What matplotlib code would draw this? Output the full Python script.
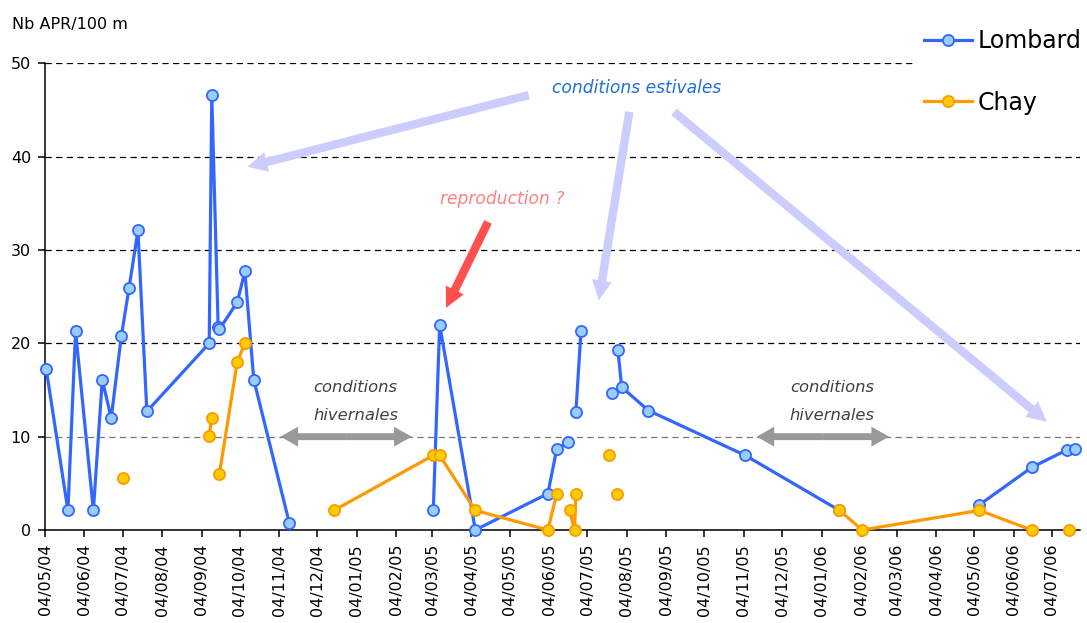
import matplotlib
matplotlib.use('Agg')
import matplotlib.pyplot as plt
import matplotlib.dates as mdates
import numpy as np
import pandas as pd

# données (NaN = pas de relevé, la ligne est coupée)
nan = np.nan

lombard_dates = ['2004-05-05', '2004-05-22', '2004-05-28', '2004-06-11', '2004-06-18',
                 '2004-06-25', '2004-07-03', '2004-07-09', '2004-07-16', '2004-07-23',
                 '2004-09-10', '2004-09-12', '2004-09-17', '2004-09-18', '2004-10-02',
                 '2004-10-08', '2004-10-15', '2004-11-12', '2005-01-01', '2005-03-05',
                 '2005-03-10', '2005-04-07', '2005-06-03', '2005-06-10', '2005-06-19',
                 '2005-06-22', '2005-06-25', '2005-06-29', '2005-07-10', '2005-07-23',
                 '2005-07-25', '2005-07-28', '2005-07-31', '2005-08-21', '2005-11-05',
                 '2006-01-18', '2006-03-01', '2006-05-08', '2006-06-18', '2006-07-16',
                 '2006-07-22']
lombard_values = [17.2, 2.1, 21.3, 2.1, 16.1,
                  12.0, 20.8, 25.9, 32.1, 12.7,
                  20.0, 46.6, 21.8, 21.5, 24.4,
                  27.7, 16.1, 0.7, nan, 2.1,
                  22.0, 0.0, 3.9, 8.7, 9.4,
                  nan, 12.6, 21.3, nan, 14.7,
                  nan, 19.3, 15.3, 12.8, 8.0,
                  2.1, nan, 2.7, 6.7, 8.6,
                  8.7]

chay_dates = ['2004-07-04', '2004-08-01', '2004-09-10', '2004-09-12', '2004-09-15',
              '2004-09-18', '2004-10-02', '2004-10-08', '2004-11-01', '2004-12-17',
              '2005-03-05', '2005-03-10', '2005-04-07', '2005-06-03', '2005-06-10',
              '2005-06-15', '2005-06-20', '2005-06-24', '2005-06-25', '2005-07-10',
              '2005-07-21', '2005-07-24', '2005-07-27', '2005-10-01', '2006-01-18',
              '2006-02-05', '2006-05-08', '2006-06-18', '2006-07-01', '2006-07-17']
chay_values = [5.6, nan, 10.1, 12.0, nan,
               6.0, 18.0, 20.0, nan, 2.1,
               8.0, 8.0, 2.1, 0.0, 3.9,
               nan, 2.1, 0.0, 3.9, nan,
               8.0, nan, 3.9, nan, 2.1,
               0.0, 2.1, 0.0, nan, 0.0]


def d(s):
    return mdates.datestr2num(s)


fig = plt.figure(figsize=(10.87, 6.23), dpi=100)
ax = fig.add_axes([45 / 1087, 1 - 530 / 623, 1035 / 1087, (530 - 63.3) / 623])

ax.plot(pd.to_datetime(lombard_dates), lombard_values, color='#3366FF', lw=2.3,
        marker='o', ms=8, mfc='#99CCFF', mec='#3366FF', mew=1.3,
        label='Lombard', clip_on=False, zorder=3)
ax.plot(pd.to_datetime(chay_dates), chay_values, color='#FF9900', lw=2.3,
        marker='o', ms=8, mfc='#FFCC00', mec='#FF9900', mew=1.3,
        label='Chay', clip_on=False, zorder=4)

ax.set_ylim(0, 50)
ax.set_yticks(range(0, 51, 10))
ax.set_xlim(pd.Timestamp('2004-05-04'), pd.Timestamp('2006-07-26'))
ax.xaxis.set_major_locator(mdates.MonthLocator(bymonthday=4))
ax.xaxis.set_major_formatter(mdates.DateFormatter('%d/%m/%y'))
plt.setp(ax.get_xticklabels(), rotation=90)

for s in ['top', 'right']:
    ax.spines[s].set_visible(False)
for s in ['left', 'bottom']:
    ax.spines[s].set_linewidth(1.1)
ax.tick_params(direction='out', length=5, width=1.1, labelsize=11.5, pad=5)

ax.yaxis.grid(True, color='black', lw=0.9, linestyle=(0, (5, 3.5)))
ax.set_axisbelow(True)
ax.get_ygridlines()[1].set_color('#777777')

# flèches et commentaires
lavande = dict(arrowstyle='simple,head_length=1.3,head_width=1.3,tail_width=0.55',
               mutation_scale=11, color='#CCCCFF', lw=0, shrinkA=0, shrinkB=0)
ax.annotate('', xy=(d('2004-10-10'), 38.9), xytext=(d('2005-05-19'), 46.6), arrowprops=lavande)
ax.annotate('', xy=(d('2005-07-13'), 24.6), xytext=(d('2005-08-06'), 44.8), arrowprops=lavande)
ax.annotate('', xy=(d('2006-06-30'), 11.6), xytext=(d('2005-09-10'), 44.8), arrowprops=lavande)

rouge = dict(lavande, color='#FF5050')
ax.annotate('', xy=(d('2005-03-15'), 23.8), xytext=(d('2005-04-17'), 33.0), arrowprops=rouge)

# double flèche grise = deux flèches partant du milieu
gris = dict(arrowstyle='simple,head_length=1.15,head_width=1.3,tail_width=0.45',
            mutation_scale=11, color='#999999', lw=0, shrinkA=0, shrinkB=0)
for a, b in [('2004-11-05', '2005-02-16'), ('2005-11-14', '2006-02-26')]:
    mid = (d(a) + d(b)) / 2
    ax.annotate('', xy=(d(a), 10.0), xytext=(mid, 10.0), arrowprops=gris, zorder=5)
    ax.annotate('', xy=(d(b), 10.0), xytext=(mid, 10.0), arrowprops=gris, zorder=5)

ax.text(d('2005-08-12'), 47.35, 'conditions estivales', ha='center', va='center',
        style='italic', color='#1F6FD8', fontsize=12.3)
ax.text(d('2005-04-28'), 35.46, 'reproduction ?', ha='center', va='center',
        style='italic', color='#FF8080', fontsize=12.3)
for x in ['2005-01-03', '2006-01-12']:
    ax.text(d(x), 15.3, 'conditions', ha='center', va='center',
            style='italic', color='#404040', fontsize=11.8)
    ax.text(d(x), 12.3, 'hivernales', ha='center', va='center',
            style='italic', color='#404040', fontsize=11.8)

fig.text(12 / 1087, 1 - 25 / 623, 'Nb APR/100 m', fontsize=11.5, va='center', ha='left')

ax.legend(loc='upper left', bbox_to_anchor=(915 / 1087, 1 - 20 / 623),
          bbox_transform=fig.transFigure, fontsize=17, frameon=True,
          facecolor='white', edgecolor='white', framealpha=1, fancybox=False,
          handlelength=2.0, handletextpad=0.25, labelspacing=1.58,
          borderpad=0.4, borderaxespad=0)

fig.savefig('out.png', dpi=100)
